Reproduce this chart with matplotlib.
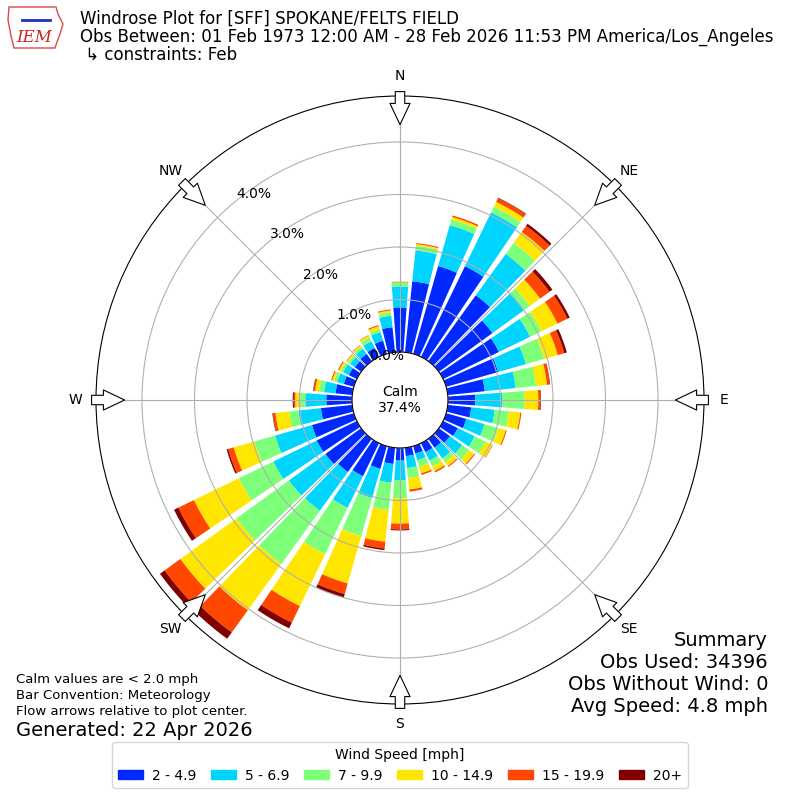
import numpy as np
import matplotlib
matplotlib.use("Agg")
import matplotlib.pyplot as plt
from matplotlib.patches import Polygon, Patch

# ------- data (percent of obs per 10 degree direction bin) -------
directions = np.arange(0, 360, 10)
speed_labels = ["2 - 4.9", "5 - 6.9", "7 - 9.9", "10 - 14.9", "15 - 19.9", "20+"]

pct_2_5 = [0.85, 1.36, 1.74, 1.92, 1.55, 1.26, 1.18, 1.03, 0.71, 0.52, 0.45, 0.40,
           0.31, 0.26, 0.21, 0.19, 0.15, 0.16, 0.24, 0.31, 0.45, 0.70, 0.78, 0.84,
           0.85, 0.83, 0.60, 0.49, 0.32, 0.20, 0.17, 0.15, 0.17, 0.19, 0.26, 0.48]
pct_5_7 = [0.40, 0.59, 0.81, 1.14, 0.97, 0.74, 0.66, 0.55, 0.59, 0.52, 0.45, 0.36,
           0.36, 0.29, 0.25, 0.18, 0.13, 0.23, 0.38, 0.36, 0.58, 0.67, 0.91, 0.86,
           0.92, 0.73, 0.43, 0.40, 0.22, 0.13, 0.12, 0.11, 0.12, 0.14, 0.17, 0.22]
pct_7_10 = [0.08, 0.09, 0.11, 0.12, 0.26, 0.14, 0.24, 0.36, 0.39, 0.42, 0.27, 0.27,
            0.23, 0.16, 0.09, 0.12, 0.13, 0.19, 0.34, 0.52, 0.75, 0.98, 1.25, 1.23,
            0.73, 0.41, 0.18, 0.12, 0.10, 0.06, 0.05, 0.05, 0.05, 0.08, 0.06, 0.06]
pct_10_15 = [0.00, 0.03, 0.05, 0.10, 0.26, 0.24, 0.34, 0.27, 0.21, 0.26, 0.22, 0.15,
             0.14, 0.12, 0.09, 0.10, 0.13, 0.22, 0.48, 0.61, 0.94, 1.10, 1.09, 1.32,
             0.95, 0.41, 0.26, 0.07, 0.07, 0.04, 0.04, 0.03, 0.03, 0.04, 0.06, 0.04]
pct_15_20 = [0.01, 0.02, 0.03, 0.08, 0.14, 0.22, 0.21, 0.13, 0.05, 0.04, 0.02, 0.02,
             0.01, 0.02, 0.02, 0.03, 0.03, 0.04, 0.11, 0.13, 0.21, 0.35, 0.52, 0.37,
             0.33, 0.11, 0.05, 0.03, 0.03, 0.02, 0.02, 0.01, 0.01, 0.01, 0.02, 0.02]
pct_20p = [0.00, 0.00, 0.00, 0.01, 0.05, 0.07, 0.05, 0.05, 0.01, 0.01, 0.00, 0.00,
           0.00, 0.00, 0.00, 0.00, 0.00, 0.00, 0.02, 0.03, 0.07, 0.12, 0.15, 0.11,
           0.09, 0.03, 0.01, 0.02, 0.01, 0.00, 0.00, 0.00, 0.00, 0.00, 0.00, 0.00]

calm_pct = 37.4
rticks = [0, 1, 2, 3, 4]
compass = ["N", "NE", "E", "SE", "S", "SW", "W", "NW"]

#-------graph-------
fig = plt.figure(figsize=(8, 8), dpi=100)
ax = fig.add_axes([0.12, 0.12, 0.76, 0.76], projection="polar")
ax.set_theta_zero_location("N")
ax.set_theta_direction(-1)
ax.set_rorigin(-0.914)
ax.set_ylim(0, 4.876)

colors = plt.get_cmap("jet")(np.linspace(0, 1, 7))[1:]
theta = np.radians(directions)
width = np.radians(8.2)
bottom = np.zeros(len(directions))
series = [pct_2_5, pct_5_7, pct_7_10, pct_10_15, pct_15_20, pct_20p]
for vals, col in zip(series, colors):
    vals = np.array(vals)
    ax.bar(theta, vals, width=width, bottom=bottom, color=col, linewidth=0)
    bottom = bottom + vals

# grid
ax.set_xticks(np.radians(np.arange(0, 360, 45)))
ax.set_xticklabels([])
ax.set_yticks(rticks)
ax.set_yticklabels([])
ax.grid(True, color="#b0b0b0", lw=0.8)

# radial labels
lab_ang = np.radians(320.6)
for r in rticks:
    ax.text(lab_ang, r, "%.1f%%" % r, ha="left", va="bottom", fontsize=10)

# compass labels and flow arrows
for i, name in enumerate(compass):
    ang = np.radians(i * 45)
    ax.text(ang, 5.26, name, ha="center", va="center", fontsize=10, clip_on=False)
    ax.annotate("", xy=(ang, 4.33), xytext=(ang, 4.96),
                arrowprops=dict(arrowstyle="simple,head_length=0.9,head_width=0.85,tail_width=0.4",
                                fc="white", ec="black", lw=0.8, shrinkA=0, shrinkB=0,
                                mutation_scale=17),
                annotation_clip=False, zorder=5)

ax.text(0.5, 0.5, "Calm\n%.1f%%" % calm_pct, transform=ax.transAxes,
        ha="center", va="center", fontsize=10)

# title block
fig.text(0.1, 1 - 19 / 800, "Windrose Plot for [SFF] SPOKANE/FELTS FIELD", fontsize=12, va="center")
fig.text(0.1, 1 - 37 / 800,
         "Obs Between: 01 Feb 1973 12:00 AM - 28 Feb 2026 11:53 PM America/Los_Angeles",
         fontsize=12, va="center")
fig.text(0.1, 1 - 55 / 800, " \u21b3 constraints: Feb", fontsize=12, va="center")

# logo
logo_px = np.array([[9, 7], [56, 7], [58, 14], [63, 24], [60, 34], [57, 42], [55, 48],
                    [14, 48], [11, 36], [8, 20]], dtype=float)
logo = Polygon(np.column_stack([logo_px[:, 0] / 800, 1 - logo_px[:, 1] / 800]), closed=True,
               fill=False, ec="#d84a4a", lw=1, transform=fig.transFigure)
fig.patches.append(logo)
fig.text(34 / 800, 1 - 38 / 800, "IEM", color="#cc2222", fontsize=12, family="serif",
         style="italic", ha="center", va="center")
fig.lines.append(plt.Line2D([22 / 800, 50 / 800], [1 - 20 / 800, 1 - 20 / 800],
                            color="#2030c0", lw=2, transform=fig.transFigure))

# notes
fig.text(16 / 800, 1 - 679 / 800, "Calm values are < 2.0 mph", fontsize=9.5, va="center")
fig.text(16 / 800, 1 - 696 / 800, "Bar Convention: Meteorology", fontsize=9.5, va="center")
fig.text(16 / 800, 1 - 712 / 800, "Flow arrows relative to plot center.", fontsize=9.5, va="center")
fig.text(16 / 800, 1 - 730 / 800, "Generated: 22 Apr 2026", fontsize=14, va="center")

summary = ["Summary", "Obs Used: 34396", "Obs Without Wind: 0", "Avg Speed: 4.8 mph"]
for k, line in enumerate(summary):
    fig.text(768 / 800, 1 - (640 + 22 * k) / 800, line, fontsize=14, ha="right", va="center")

handles = [Patch(color=c) for c in colors]
fig.legend(handles, speed_labels, loc="lower center", bbox_to_anchor=(0.5, 0.006), ncol=6,
           title="Wind Speed [mph]", fontsize=10, title_fontsize=10, handleheight=0.6,
           handlelength=1.8, handletextpad=0.65, columnspacing=1.05)

fig.savefig("out.png", dpi=100)
